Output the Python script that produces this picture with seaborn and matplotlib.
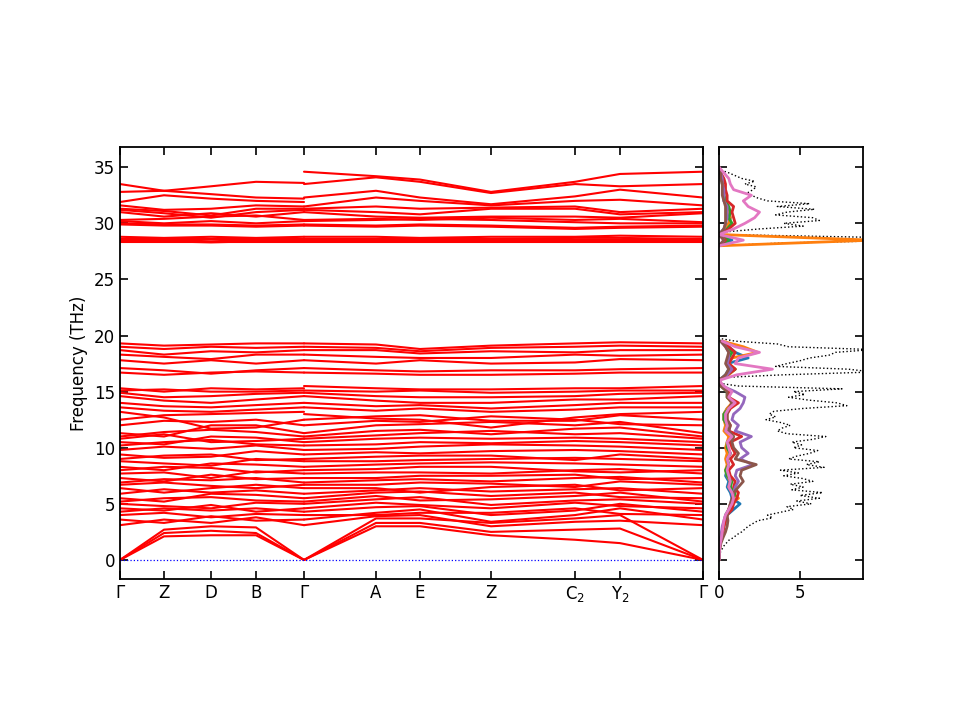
import numpy as np
import pandas as pd
import matplotlib
matplotlib.use("Agg")
import matplotlib.pyplot as plt
import seaborn as sns

# ---- k-path (cumulative distance along the path) ----
path1_q = [0.0, 0.44, 0.91, 1.36, 1.84]                     # Γ Z D B Γ
path2_q = [1.84, 2.56, 3.00, 3.71, 4.55, 5.00, 5.83]        # Γ A E Z C2 Y2 Γ
tick_q = [0.0, 0.44, 0.91, 1.36, 1.84, 2.56, 3.00, 3.71, 4.55, 5.00, 5.83]
tick_labels = ["Γ", "Z", "D", "B", "Γ", "A", "E", "Z", "C$_2$", "Y$_2$", "Γ"]

# ---- phonon frequencies (THz) at the path nodes ----
acoustic_p1 = [
    [0, 2.1, 2.2, 2.2, 0],
    [0, 2.4, 2.6, 2.4, 0],
    [0, 2.7, 3.0, 2.9, 0],
]
acoustic_p2 = [
    [0, 3.0, 3.0, 2.2, 1.8, 1.5, 0],
    [0, 3.3, 3.3, 2.5, 2.7, 2.8, 0],
    [0, 3.7, 3.7, 3.3, 3.7, 4.0, 0],
]

low_p1 = [
    [3.1, 3.6, 3.3, 3.8, 3.1], [3.6, 3.3, 3.9, 3.5, 3.6], [4.0, 4.2, 3.8, 4.1, 4.0],
    [4.3, 4.6, 4.4, 4.6, 4.3], [4.6, 4.4, 4.9, 4.3, 4.6], [5.0, 4.8, 4.6, 5.1, 5.0],
    [5.2, 5.5, 5.6, 5.3, 5.2], [5.5, 5.2, 5.9, 5.8, 5.5], [5.9, 6.3, 6.0, 6.2, 5.9],
    [6.4, 6.0, 6.4, 6.7, 6.4], [6.7, 6.9, 6.6, 6.4, 6.7], [6.9, 7.2, 7.1, 7.3, 6.9],
    [7.3, 7.0, 7.6, 7.2, 7.3], [7.7, 7.8, 7.3, 7.9, 7.7], [8.0, 8.3, 8.2, 7.8, 8.0],
    [8.3, 8.0, 8.6, 8.5, 8.3], [8.8, 8.6, 8.4, 9.0, 8.8], [9.0, 9.3, 9.4, 8.9, 9.0],
    [9.4, 9.1, 9.2, 9.7, 9.4], [9.8, 10.1, 9.9, 10.2, 9.8], [10.2, 10.5, 10.7, 10.3, 10.2],
    [10.5, 10.3, 11.0, 10.9, 10.5], [10.8, 11.2, 10.5, 10.6, 10.8], [11.0, 11.4, 11.6, 11.4, 11.0],
    [11.3, 11.0, 12.0, 12.0, 11.3], [12.0, 12.4, 12.3, 12.5, 12.0], [12.5, 12.9, 13.0, 13.1, 13.2],
    [13.2, 12.7, 11.7, 11.8, 12.5], [13.6, 13.3, 13.2, 13.4, 13.6], [14.0, 13.7, 13.6, 13.8, 14.0],
    [14.6, 14.2, 14.0, 14.3, 14.6], [14.9, 14.5, 14.6, 14.8, 14.9], [15.1, 15.2, 15.0, 15.0, 15.1],
    [15.3, 15.0, 15.3, 15.2, 15.3], [16.7, 16.5, 16.7, 16.8, 16.7], [17.1, 16.9, 16.6, 16.9, 17.1],
    [17.8, 17.5, 17.8, 17.5, 17.8], [18.3, 18.1, 17.9, 18.3, 18.3], [18.7, 18.3, 18.6, 18.5, 18.7],
    [19.0, 18.8, 19.0, 18.9, 19.0], [19.3, 19.1, 19.2, 19.3, 19.3],
]
low_p2 = [
    [3.1, 3.9, 4.0, 3.0, 3.4, 3.5, 3.1], [3.6, 4.2, 4.5, 3.4, 4.0, 4.6, 3.6],
    [4.0, 4.0, 4.2, 4.2, 4.6, 4.1, 4.0], [4.3, 4.7, 4.8, 4.0, 4.4, 5.0, 4.3],
    [4.6, 5.1, 4.9, 4.6, 5.1, 4.8, 4.6], [5.0, 5.4, 5.6, 4.9, 5.3, 5.4, 5.0],
    [5.2, 5.7, 5.3, 5.4, 5.7, 6.0, 5.2], [5.5, 6.0, 6.1, 5.7, 6.0, 5.6, 5.5],
    [5.9, 6.2, 6.4, 6.1, 6.3, 6.4, 5.9], [6.4, 6.4, 6.0, 6.5, 6.7, 6.2, 6.4],
    [6.7, 6.7, 6.9, 6.8, 6.5, 7.0, 6.7], [6.9, 7.1, 7.2, 7.0, 7.3, 7.4, 6.9],
    [7.3, 7.3, 7.5, 7.5, 7.6, 7.2, 7.3], [7.7, 7.8, 7.8, 7.7, 8.0, 8.1, 7.7],
    [8.0, 8.1, 8.3, 8.3, 7.9, 7.8, 8.0], [8.3, 8.5, 8.6, 8.7, 8.6, 8.5, 8.3],
    [8.8, 8.8, 8.9, 9.0, 9.1, 9.0, 8.8], [9.0, 9.2, 9.3, 9.3, 8.9, 9.4, 9.0],
    [9.4, 9.6, 9.5, 9.7, 9.8, 9.7, 9.4], [9.8, 9.9, 10.1, 10.3, 10.2, 10.1, 9.8],
    [10.2, 10.3, 10.5, 10.4, 10.6, 10.5, 10.2], [10.5, 10.8, 10.9, 10.8, 10.9, 10.8, 10.5],
    [10.8, 11.1, 11.3, 11.5, 11.2, 11.3, 10.8], [11.0, 11.5, 11.6, 11.2, 11.7, 11.8, 11.0],
    [11.3, 12.0, 12.1, 12.3, 12.0, 12.3, 11.3], [12.0, 12.4, 12.3, 12.8, 12.5, 12.1, 12.0],
    [12.5, 12.8, 12.9, 12.4, 12.4, 12.9, 12.5], [13.0, 12.6, 12.5, 11.8, 12.7, 13.0, 13.2],
    [13.6, 13.3, 13.5, 13.2, 13.4, 13.6, 13.6], [14.0, 13.7, 13.8, 13.5, 13.8, 14.0, 14.0],
    [14.6, 14.2, 14.0, 14.0, 14.3, 14.3, 14.6], [14.9, 14.6, 14.5, 14.5, 14.6, 14.8, 14.9],
    [15.1, 15.0, 15.1, 14.9, 15.0, 15.1, 15.1], [15.5, 15.3, 15.2, 15.2, 15.3, 15.3, 15.5],
    [16.7, 16.6, 16.5, 16.5, 16.6, 16.7, 16.7], [17.1, 16.9, 16.8, 16.9, 16.9, 17.0, 17.1],
    [17.8, 17.5, 17.8, 17.5, 17.6, 17.9, 17.8], [18.3, 18.1, 18.0, 18.0, 18.3, 18.2, 18.3],
    [18.7, 18.7, 18.4, 18.6, 18.5, 18.7, 18.7], [19.0, 18.9, 18.6, 18.9, 19.0, 19.1, 19.0],
    [19.3, 19.2, 18.8, 19.1, 19.3, 19.4, 19.3],
]

high_p1 = [
    [28.3, 28.3, 28.3, 28.3, 28.3], [28.4, 28.4, 28.3, 28.4, 28.4], [28.5, 28.5, 28.4, 28.5, 28.5],
    [28.6, 28.6, 28.6, 28.6, 28.6], [28.8, 28.7, 28.8, 28.7, 28.8], [29.9, 29.8, 29.8, 29.7, 29.8],
    [30.0, 29.9, 29.9, 29.8, 29.9], [30.2, 30.0, 30.2, 30.0, 30.2], [30.3, 30.4, 30.6, 30.7, 30.3],
    [31.0, 30.6, 30.9, 30.6, 31.0], [31.2, 30.9, 30.5, 31.0, 31.2], [31.3, 31.1, 30.7, 31.3, 31.3],
    [31.6, 31.2, 31.3, 31.6, 31.5], [31.9, 32.5, 32.2, 32.0, 31.9], [32.8, 32.9, 32.6, 32.3, 32.2],
    [33.5, 32.9, 33.3, 33.7, 33.6],
]
high_p2 = [
    [28.3, 28.3, 28.3, 28.3, 28.3, 28.3, 28.3], [28.4, 28.4, 28.4, 28.4, 28.4, 28.4, 28.4],
    [28.5, 28.5, 28.5, 28.5, 28.5, 28.5, 28.5], [28.6, 28.6, 28.6, 28.6, 28.7, 28.7, 28.6],
    [28.8, 28.8, 28.7, 28.8, 28.8, 28.9, 28.8], [29.8, 29.7, 29.8, 29.7, 29.5, 29.6, 29.7],
    [29.9, 29.8, 29.9, 29.8, 29.6, 29.7, 29.8], [30.2, 30.3, 30.4, 30.3, 30.1, 30.0, 30.0],
    [30.3, 30.4, 30.3, 30.5, 30.3, 30.4, 30.1], [31.0, 30.6, 30.5, 30.6, 30.6, 30.5, 30.9],
    [31.2, 31.0, 30.8, 31.3, 31.3, 30.8, 31.0], [31.3, 31.5, 31.3, 31.4, 31.5, 31.0, 31.3],
    [31.5, 32.3, 32.0, 31.6, 32.0, 32.1, 31.6], [32.3, 32.9, 32.3, 31.7, 32.4, 33.0, 32.3],
    [33.5, 34.1, 33.7, 32.7, 33.5, 33.3, 33.5], [34.6, 34.2, 33.9, 32.8, 33.7, 34.4, 34.6],
]

# ---- total DOS (black dotted) ----
dos_low_freq = np.arange(0, 20.0, 0.25)
dos_low_total = [
    0.0, 0.02, 0.05, 0.1, 0.2, 0.3, 0.45, 0.6, 0.9, 1.1, 1.4, 1.6, 1.8, 2.1, 2.4, 3.3,
    3.0, 3.8, 4.6, 4.2, 5.7, 4.8, 6.2, 5.0, 6.4, 4.5, 5.2, 4.4, 5.8, 5.2, 4.0, 4.9,
    3.8, 6.5, 5.4, 6.2, 4.3, 4.8, 5.6, 6.1, 4.6, 5.1, 4.5, 5.8, 6.6, 4.2, 3.6, 3.9,
    4.4, 3.8, 2.9, 3.5, 3.1, 3.4, 5.2, 7.9, 7.3, 5.5, 4.3, 5.3, 4.6, 7.6, 1.2, 0.0,
    0.0, 0.0, 4.0, 9.5, 8.0, 3.5, 4.2, 5.0, 5.6, 6.8, 7.2, 9.5, 4.3, 3.6, 1.0, 0.0,
]
dos_high_freq = np.arange(28.0, 35.01, 0.25)
dos_high_total = [
    0.0, 4.0, 12.0, 9.5, 0.3, 0.5, 2.5, 5.2, 4.0, 6.2, 5.8, 3.5, 4.2, 5.9, 3.6,
    5.6, 3.0, 2.4, 2.0, 1.8, 2.1, 2.3, 1.6, 2.2, 1.4, 1.0, 0.6, 0.1, 0.0,
]

# ---- partial DOS per atom type ----
pdos_low_freq = np.arange(0, 20.0, 0.5)
pdos_high_freq = np.arange(28.0, 35.01, 0.5)
pdos_low = [
    [0, 0.01, 0.03, 0.06, 0.12, 0.2, 0.3, 0.4, 0.5, 0.9, 1.3, 0.8, 0.7, 0.5, 0.6, 0.4, 0.5, 0.6, 0.5, 0.7,
     0.5, 0.6, 0.8, 0.4, 0.5, 0.3, 0.3, 0.5, 0.9, 0.6, 0.7, 0.2, 0, 0.4, 0.6, 0.5, 1.8, 1.0, 0.6, 0.1],
    [0, 0.01, 0.03, 0.06, 0.12, 0.2, 0.3, 0.4, 0.5, 0.6, 0.7, 1.2, 0.8, 0.6, 0.7, 0.5, 0.4, 0.5, 0.4, 0.5,
     0.4, 0.5, 0.6, 0.3, 0.4, 0.3, 0.3, 0.5, 0.8, 0.5, 0.6, 0.2, 0, 0.6, 1.0, 0.6, 0.8, 2.4, 1.5, 0.2],
    [0, 0.01, 0.03, 0.06, 0.12, 0.2, 0.25, 0.35, 0.4, 0.6, 0.8, 0.9, 1.0, 0.7, 0.8, 0.5, 0.4, 0.6, 0.5, 0.7,
     0.5, 0.5, 0.9, 0.4, 0.5, 0.3, 0.3, 0.6, 1.0, 0.5, 0.5, 0.1, 0, 0.5, 1.0, 0.5, 0.6, 0.8, 0.5, 0.1],
    [0, 0.01, 0.04, 0.08, 0.15, 0.25, 0.3, 0.4, 0.5, 0.8, 0.9, 1.1, 1.2, 0.9, 1.0, 0.7, 0.6, 0.9, 0.7, 1.0,
     0.8, 0.7, 1.4, 0.6, 0.7, 0.5, 0.5, 0.7, 1.2, 0.6, 0.6, 0.2, 0, 0.5, 1.0, 0.6, 0.8, 1.0, 0.6, 0.2],
    [0, 0.005, 0.02, 0.05, 0.1, 0.15, 0.2, 0.3, 0.4, 0.6, 0.7, 0.8, 0.9, 1.0, 1.2, 1.0, 1.1, 2.1, 1.3, 1.8,
     1.4, 1.3, 2.0, 1.0, 1.2, 0.8, 0.9, 1.3, 1.5, 1.6, 1.0, 0.2, 0, 0.5, 0.8, 0.5, 0.6, 0.6, 0.4, 0.1],
    [0, 0.01, 0.05, 0.12, 0.25, 0.4, 0.5, 0.55, 0.5, 0.6, 0.7, 0.8, 0.9, 1.2, 1.5, 1.3, 1.4, 2.3, 1.0, 1.2,
     0.9, 0.8, 0.9, 0.6, 0.7, 0.5, 0.5, 0.6, 0.8, 0.5, 0.5, 0.1, 0, 0.4, 0.6, 0.4, 0.5, 0.6, 0.4, 0.1],
    [0, 0.01, 0.03, 0.08, 0.15, 0.2, 0.25, 0.3, 0.4, 0.6, 0.8, 0.9, 0.8, 0.6, 0.7, 0.6, 0.5, 0.6, 0.5, 0.7,
     0.6, 0.5, 0.8, 0.4, 0.5, 0.4, 0.4, 0.6, 1.0, 0.6, 0.8, 0.3, 0, 1.1, 3.3, 1.0, 1.2, 2.5, 1.0, 0.2],
]
pdos_high = [
    [0, 0.8, 0, 0.3, 0.6, 0.7, 0.5, 0.5, 0.3, 0.3, 0.3, 0.2, 0.2, 0.1, 0],
    [0, 9.5, 0.1, 0.4, 0.6, 0.7, 0.6, 0.5, 0.4, 0.3, 0.3, 0.2, 0.2, 0.1, 0],
    [0, 0.6, 0, 0.5, 0.8, 0.6, 0.7, 0.6, 0.4, 0.3, 0.3, 0.2, 0.2, 0.1, 0],
    [0, 0.4, 0, 0.6, 1.0, 0.9, 0.8, 0.9, 0.5, 0.5, 0.4, 0.4, 0.3, 0.1, 0],
    [0, 0.3, 0, 0.3, 0.4, 0.5, 0.5, 0.5, 0.3, 0.3, 0.3, 0.2, 0.2, 0.1, 0],
    [0, 0.3, 0, 0.3, 0.4, 0.4, 0.4, 0.4, 0.3, 0.2, 0.2, 0.2, 0.1, 0.1, 0],
    [0, 1.5, 0, 0.9, 1.6, 2.2, 2.5, 1.8, 1.5, 2.0, 0.9, 0.7, 0.6, 0.3, 0],
]
pdos_colors = sns.color_palette("tab10", 7)

# ---- long-form table of band segments ----
rows = []
line_id = 0
for q, groups in ((path1_q, (acoustic_p1, low_p1, high_p1)),
                  (path2_q, (acoustic_p2, low_p2, high_p2))):
    for group in groups:
        for band in group:
            for qq, f in zip(q, band):
                rows.append({"q": qq, "freq": f, "line": line_id})
            line_id += 1
bands = pd.DataFrame(rows)

sns.set_style("ticks")
plt.rcParams["font.family"] = ["DejaVu Sans"]
plt.rcParams.update({
    "font.size": 12,
    "axes.linewidth": 1.3,
    "axes.edgecolor": "black",
    "axes.labelcolor": "black",
    "text.color": "black",
    "xtick.color": "black",
    "ytick.color": "black",
})

fig = plt.figure(figsize=(9.6, 7.2), dpi=100)
ax = fig.add_axes([0.125, 0.1958, 0.6073, 0.6])
ax_dos = fig.add_axes([0.749, 0.1958, 0.15, 0.6])

sns.lineplot(data=bands, x="q", y="freq", units="line", estimator=None,
             color="red", lw=1.5, legend=False, ax=ax)
ax.axhline(0, color="blue", ls=":", lw=0.9)

ylim = (-1.7, 36.8)
ax.set_xlim(tick_q[0], tick_q[-1])
ax.set_ylim(*ylim)
ax.set_xticks(tick_q)
ax.set_xticklabels(tick_labels)
ax.set_yticks(range(0, 36, 5))
ax.set_xlabel("")
ax.set_ylabel("Frequency (THz)")
ax.tick_params(direction="in", top=True, right=True, length=6, width=1.2, labelsize=12)

# DOS panel
for freq, tot in ((dos_low_freq, dos_low_total), (dos_high_freq, dos_high_total)):
    sns.lineplot(x=tot, y=freq, orient="y", estimator=None, sort=False,
                 color="black", ls=":", lw=1.0, ax=ax_dos)
for i, c in enumerate(pdos_colors):
    sns.lineplot(x=pdos_low[i], y=pdos_low_freq, orient="y", estimator=None, sort=False,
                 color=c, lw=2.0, ax=ax_dos)
    sns.lineplot(x=pdos_high[i], y=pdos_high_freq, orient="y", estimator=None, sort=False,
                 color=c, lw=2.0, ax=ax_dos)

ax_dos.set_xlim(0, 8.9)
ax_dos.set_ylim(*ylim)
ax_dos.set_xticks([0, 5])
ax_dos.set_yticks(range(0, 36, 5))
ax_dos.set_yticklabels([])
ax_dos.set_xlabel("")
ax_dos.set_ylabel("")
ax_dos.tick_params(direction="in", top=True, right=True, length=6, width=1.2, labelsize=12)

fig.savefig("out.png", dpi=100)
